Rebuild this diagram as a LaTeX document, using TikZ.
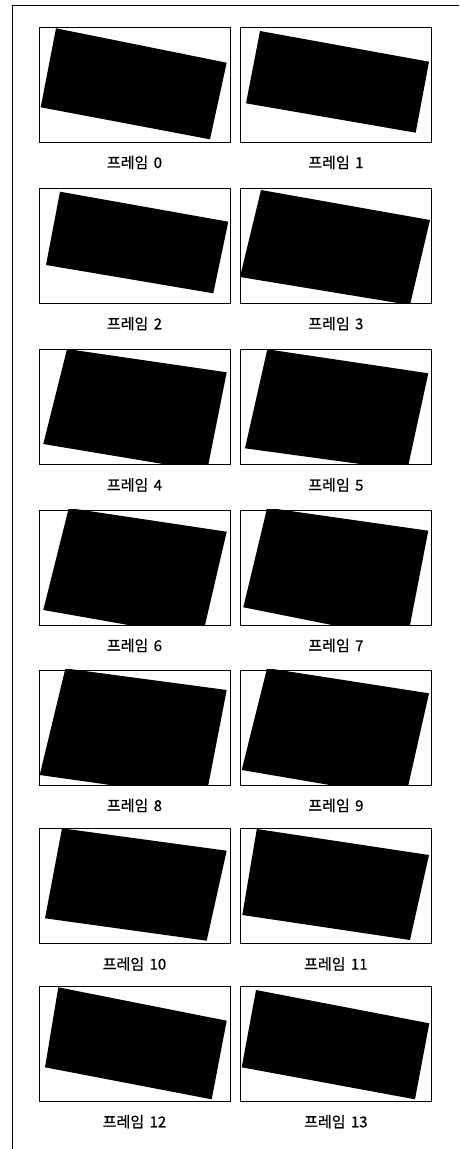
\documentclass[tikz,border=0pt]{standalone}
\usepackage{fontspec}
\newfontfamily\krfont[WordSpace=1.6, FakeBold=0.8]{Noto Sans CJK KR}
\usetikzlibrary{positioning}
% black quadrilateral, clipped to its frame
\newcommand{\blackquad}[5]{%
  \begin{scope}
    \clip (#1.south west) rectangle (#1.north east);
    \fill[black] #2 -- #3 -- #4 -- #5 -- cycle;
  \end{scope}}

\begin{document}
\begin{tikzpicture}[x=1pt, y=-1pt,
  frm/.style={rectangle, draw=black, line width=0.9pt,
              minimum width=191pt, minimum height=115pt, inner sep=0pt},
  lbl/.style={font=\krfont\fontsize{15}{17}\selectfont, inner sep=0pt},
]
  \useasboundingbox (0,0) rectangle (459,1149);
  \draw[line width=1.5pt] (12.5,1149) -- (12.5,5.5) -- (459,5.5);

  \node[frm] (f0) at (134.5,84.5) {};
  \node[frm, right=9.5pt of f0] (f1) {};
  \node[frm] (f2) at (134.5,245.7) {};
  \node[frm, right=9.5pt of f2] (f3) {};
  \node[frm] (f4) at (134.5,407) {};
  \node[frm, right=9.5pt of f4] (f5) {};
  \node[frm] (f6) at (134.5,567.5) {};
  \node[frm, right=9.5pt of f6] (f7) {};
  \node[frm] (f8) at (134.5,727.5) {};
  \node[frm, right=9.5pt of f8] (f9) {};
  \node[frm] (f10) at (134.5,886) {};
  \node[frm, right=9.5pt of f10] (f11) {};
  \node[frm] (f12) at (134.5,1043.7) {};
  \node[frm, right=9.5pt of f12] (f13) {};

  \blackquad{f0}{(56,28.3)}{(226.7,62.7)}{(210,139.3)}{(40.7,107.3)}
  \blackquad{f1}{(260,31)}{(429,61.7)}{(415.7,132.7)}{(246,103.3)}
  \blackquad{f2}{(60,191.7)}{(228.3,221.7)}{(213.3,293.3)}{(46,265)}
  \blackquad{f3}{(261,190)}{(430,220)}{(410,305)}{(240,277)}
  \blackquad{f4}{(67,349)}{(226.7,372.3)}{(207,471.3)}{(43.3,444)}
  \blackquad{f5}{(267.3,349.3)}{(428.3,373.3)}{(407.2,470.4)}{(245,448.3)}
  \blackquad{f6}{(68.8,508)}{(226.7,531.7)}{(202,638)}{(43.3,610)}
  \blackquad{f7}{(267.2,507.7)}{(428.3,530.7)}{(407.1,640)}{(243.3,607.3)}
  \blackquad{f8}{(65.4,668.4)}{(226.7,690)}{(205.7,798.5)}{(39.7,775)}
  \blackquad{f9}{(267.1,668.1)}{(429,693.3)}{(405.5,797.9)}{(241.7,770)}
  \blackquad{f10}{(62,828.3)}{(226.7,850.7)}{(206.7,940.7)}{(45,918.3)}
  \blackquad{f11}{(256.8,829)}{(429,855)}{(410,940)}{(242.3,915)}
  \blackquad{f12}{(58.3,987.3)}{(226.7,1020.7)}{(211.7,1099.3)}{(45,1067.3)}
  \blackquad{f13}{(256,990)}{(429.3,1023.3)}{(415,1099.3)}{(241.7,1067.3)}

  \node[lbl, below=13pt of f0] (l0) {프레임 0};
  \node[lbl, below=13pt of f1] (l1) {프레임 1};
  \node[lbl, below=13pt of f2] (l2) {프레임 2};
  \node[lbl, below=13pt of f3] (l3) {프레임 3};
  \node[lbl, below=13pt of f4] (l4) {프레임 4};
  \node[lbl, below=13pt of f5] (l5) {프레임 5};
  \node[lbl, below=13pt of f6] (l6) {프레임 6};
  \node[lbl, below=13pt of f7] (l7) {프레임 7};
  \node[lbl, below=13pt of f8] (l8) {프레임 8};
  \node[lbl, below=13pt of f9] (l9) {프레임 9};
  \node[lbl, below=13pt of f10] (l10) {프레임 10};
  \node[lbl, below=13pt of f11] (l11) {프레임 11};
  \node[lbl, below=13pt of f12] (l12) {프레임 12};
  \node[lbl, below=13pt of f13] (l13) {프레임 13};
\end{tikzpicture}
\end{document}
